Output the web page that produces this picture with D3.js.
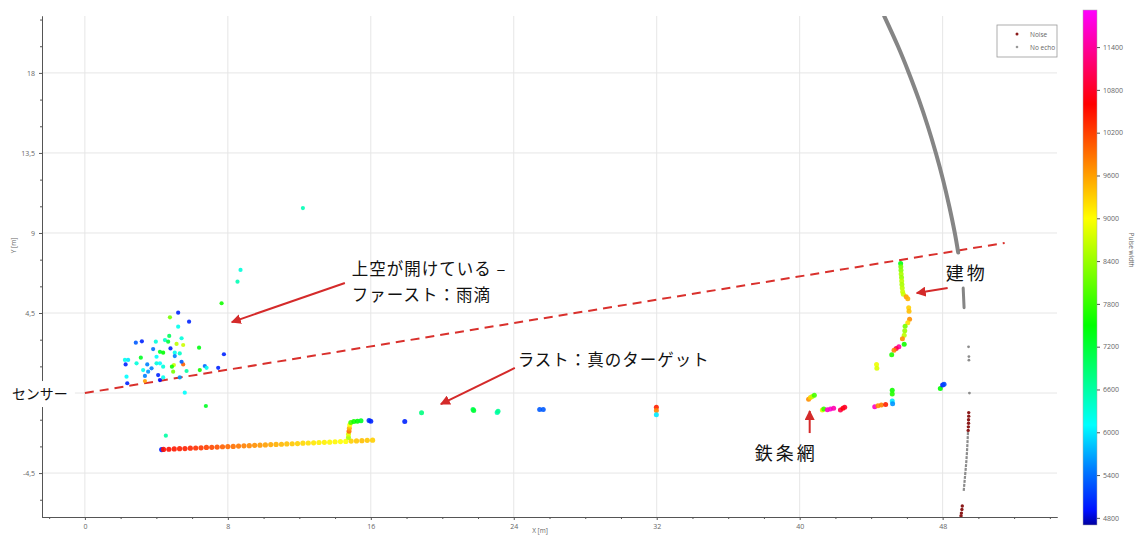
<!DOCTYPE html>
<html>
<head>
<meta charset="utf-8">
<script src="https://d3js.org/d3.v7.min.js"></script>
<style>
body {margin:0; background:#fff;}
text {font-family:'Open Sans', sans-serif;}
.jp {font-family:'Noto Sans CJK JP', sans-serif; fill:#111;}
</style>
</head>
<body>
<svg id="chart" width="1139" height="536"></svg>
<script>
// ticks
var xTicks = [0, 8, 16, 24, 32, 40, 48]
var xMinor = [-2, 2, 4, 6, 10, 12, 14, 18, 20, 22, 26, 28, 30, 34, 36, 38, 42, 44, 46, 50, 52, 54]
var yTicks = [-4.5, 0, 4.5, 9, 13.5, 18]
var yMinor = [-6, -3, -1.5, 1.5, 3, 6, 7.5, 10.5, 12, 15, 16.5, 19.5, 21]
var cbTicks = [4800, 5400, 6000, 6600, 7200, 7800, 8400, 9000, 9600, 10200, 10800, 11400]

// colour map of the pulse width
var pwStops = [4700, 4900, 5500, 6100, 7500, 9000, 10600, 11920]
var pwColors = ['#0000a0', '#0010ff', '#0080ff', '#00ffff', '#00ff00', '#ffff00', '#ff0000', '#ff00ff']

// first echoes (rain drops)
var rainX = [7.65,5.22,4.76,5.83,5.22,4.72,5.41,2.85,3.19,3.97,4.48,4.66,5.13,5.5,3.82,4.79,6.39,4.2,4.38,5.03,5.31,4.01,5.03,7.78,2.24,2.42,3.13,2.89,2.28,3.49,4.01,4.2,4.98,4.87,5.5,5.41,3.73,3.26,4.38,4.94,5.69,6.43,6.71,6.81,7.46,3.54,2.33,3.36,4.1,4.38,5.31,2.37,3.36,4.2,5.59,6.77,8.71,8.54,4.53,12.2]
var rainY = [5.05,4.52,4.26,4.01,3.73,3.21,3.08,2.83,2.91,2.89,2.98,2.89,2.76,2.7,2.47,2.51,2.55,2.32,2.27,2.27,2.23,2.04,2.08,2.18,1.86,1.86,1.99,1.67,1.61,1.61,1.67,1.67,1.57,1.48,1.61,1.76,1.39,1.29,1.48,1.2,1.24,1.29,1.52,1.42,1.42,1.2,0.92,0.96,1.01,0.88,0.88,0.55,0.67,0.73,0.02,-0.73,6.92,6.26,-2.4,10.4]
var rainPW = [7600,5000,8200,5000,6200,7000,6300,5300,5000,6300,6400,7200,8600,8700,5400,5000,7400,7300,7500,6200,6400,6100,5500,5000,6200,6000,7300,6300,5000,5500,6300,6100,8700,7600,10000,5300,5500,6200,6300,8200,6600,7600,5400,6200,5000,5600,6100,5500,5000,6200,5600,5000,9600,4900,6100,7300,6300,6500,6600,6500]

// last echoes on the ground
var groundX = [4.3,4.4,4.7,5.0,5.3,5.6,5.9,6.2,6.5,6.8,7.1,7.4,7.7,8.0,8.3,8.6,8.9,9.2,9.5,9.8,10.1,10.4,10.7,11.0,11.3,11.6,11.9,12.2,12.5,12.8,13.1,13.4,13.7,14.0,14.3,14.6,14.9,15.2,15.5,15.8,16.1]
var groundY = [-3.18,-3.17,-3.16,-3.14,-3.13,-3.12,-3.10,-3.09,-3.08,-3.06,-3.05,-3.04,-3.02,-3.01,-3.00,-2.98,-2.97,-2.96,-2.94,-2.93,-2.92,-2.90,-2.89,-2.88,-2.86,-2.85,-2.84,-2.82,-2.81,-2.80,-2.78,-2.77,-2.76,-2.74,-2.73,-2.72,-2.70,-2.69,-2.68,-2.66,-2.65]
var groundPW = [5000,10500,10500,10450,10400,10400,10350,10300,10250,10200,10150,10100,10000,9950,9900,9850,9800,9750,9700,9650,9600,9550,9500,9450,9400,9350,9300,9250,9200,9150,9100,9100,9050,9050,9000,9000,9300,9350,9400,9350,9300]

// other targets: kerb, posts, fence, building
var objX = [14.75,14.75,14.78,14.8,14.82,14.88,15.05,15.25,15.45,15.9,16.0,
  17.9,18.84,21.72,21.76,23.07,23.12,25.45,25.65,31.98,31.98,31.98,
  40.5,40.6,40.7,40.82,41.27,41.35,41.55,41.72,41.9,42.28,42.42,42.52,
  44.2,44.38,44.57,44.81,45.18,45.18,45.18,45.2,44.3,44.32,47.87,48.0,48.08,
  45.65,45.66,45.67,45.68,45.7,45.71,45.72,45.74,45.76,45.8,45.96,46.05,46.1,46.12,46.15,46.05,45.9,45.88,45.85,45.75,45.85,45.55,45.4,45.28,45.15]
var objY = [-2.5,-2.32,-2.15,-1.98,-1.8,-1.65,-1.6,-1.58,-1.56,-1.55,-1.58,
  -1.6,-1.11,-0.92,-0.98,-1.09,-1.03,-0.92,-0.92,-0.8,-0.98,-1.22,
  -0.35,-0.25,-0.2,-0.12,-0.96,-0.9,-0.94,-0.9,-0.85,-0.96,-0.86,-0.8,
  -0.77,-0.71,-0.67,-0.64,0.15,-0.05,-0.45,-0.6,1.6,1.4,0.26,0.45,0.5,
  7.29,7.1,6.9,6.7,6.5,6.3,6.1,5.9,5.7,5.55,5.42,5.3,4.8,4.6,4.15,3.95,3.75,3.5,3.25,3.05,2.75,2.6,2.5,2.4,2.15]
var objPW = [8500,8800,9900,9500,9000,7900,7600,7500,7300,5100,5000,
  5000,6800,7000,7200,6500,6700,5300,5300,10400,9800,6000,
  9700,9300,8600,7900,8800,7800,11600,11700,11500,11000,10600,10800,
  11600,9700,9800,10400,7600,7700,6000,5600,8900,8800,7500,5000,5200,
  7400,8200,8300,8500,8400,8600,8500,8600,8700,8700,9600,9500,9300,9400,9700,9200,8200,8400,8600,9700,7600,11400,11000,9800,7700]

// no echo at maximum range
var arcX = [44.73,45.5,46.11,46.67,47.17,47.62,48.02,48.37,48.68,48.87]
var arcY = [21.2,19.5,18.0,16.5,15.0,13.5,12.0,10.5,9.0,7.9]
var segX = [49.15,49.2]
var segY = [5.9,4.8]
var lowX = [49.42,49.38,49.33,49.26,49.18]
var lowY = [-2.2,-3.0,-3.8,-4.6,-5.5]
var dotX = [49.45,49.47,49.47,49.5]
var dotY = [2.6,2.05,1.85,0.0]
// noise
var noiseX = [49.46,49.46,49.45,49.45,49.44,49.43,49.1,49.08,49.05,49.03]
var noiseY = [-1.1,-1.3,-1.5,-1.7,-1.9,-2.1,-6.35,-6.55,-6.75,-6.9]

// annotations
var beamEnd = [51.47, 8.44]
var annoText = ['上空が開けている –', 'ファースト：雨滴', 'ラスト：真のターゲット', '建物', '鉄条網']
var annoX = [14.94, 14.94, 24.22, 48.17, 37.48]
var annoY = [6.65, 5.2, 1.52, 6.36, -3.77]
var arrowFromX = [14.55, 24.06, 40.56, 48.28]
var arrowFromY = [6.19, 1.41, -2.25, 5.91]
var arrowToX = [8.22, 19.92, 40.56, 46.55]
var arrowToY = [3.99, -0.62, -1.01, 5.62]

var svg = d3.select('#chart')
var x = d3.scaleLinear().domain([-2.4, 54.4]).range([42, 1057])
var y = d3.scaleLinear().domain([-6.97, 21.2]).range([517, 16])
var color = d3.scaleLinear().domain(pwStops).range(pwColors).clamp(true)
var comma = function(d) {return d === 0 ? '' : String(d).replace('.', ',')}

svg.append('defs').append('clipPath').attr('id', 'plot')
  .append('rect').attr('x', 42).attr('y', 16).attr('width', 1015).attr('height', 501)

// grid
svg.append('g').selectAll('line').data(xTicks).enter().append('line')
  .attr('x1', d => x(d)).attr('x2', d => x(d)).attr('y1', 16).attr('y2', 517)
  .attr('stroke', '#e6e6e6')
svg.append('g').selectAll('line').data(yTicks).enter().append('line')
  .attr('x1', 42).attr('x2', 1057).attr('y1', d => y(d)).attr('y2', d => y(d))
  .attr('stroke', '#e6e6e6')

// axes
function styleAxis(g) {
  g.select('.domain').attr('stroke', '#555')
  g.selectAll('.tick line').attr('stroke', '#555')
  g.selectAll('.tick text').attr('fill', '#666').attr('font-size', 7)
}
svg.append('g').attr('transform', 'translate(0,517)')
  .call(d3.axisBottom(x).tickValues(xTicks).tickSize(3).tickSizeOuter(0).tickPadding(4))
  .call(styleAxis)
svg.append('g').attr('transform', 'translate(0,517)')
  .call(d3.axisBottom(x).tickValues(xMinor).tickSize(2).tickSizeOuter(0).tickFormat(''))
  .call(styleAxis)
svg.append('g').attr('transform', 'translate(42,0)')
  .call(d3.axisLeft(y).tickValues(yTicks).tickSize(3).tickSizeOuter(0).tickPadding(4).tickFormat(comma))
  .call(styleAxis)
svg.append('g').attr('transform', 'translate(42,0)')
  .call(d3.axisLeft(y).tickValues(yMinor).tickSize(2).tickSizeOuter(0).tickFormat(''))
  .call(styleAxis)

svg.append('text').attr('x', 540).attr('y', 533).attr('text-anchor', 'middle')
  .attr('font-size', 6.5).attr('fill', '#666').text('X [m]')
svg.append('text').attr('transform', 'translate(16,' + y(8.3) + ') rotate(-90)')
  .attr('text-anchor', 'middle').attr('font-size', 6.5).attr('fill', '#666').text('Y [m]')

var plot = svg.append('g').attr('clip-path', 'url(#plot)')

// sensor beam
plot.append('line')
  .attr('x1', x(0)).attr('y1', y(0)).attr('x2', x(beamEnd[0])).attr('y2', y(beamEnd[1]))
  .attr('stroke', '#d9302c').attr('stroke-width', 2).attr('stroke-dasharray', '9,6')

// no echo arc
var line = d3.line().x(d => x(d[0])).y(d => y(d[1])).curve(d3.curveNatural)
plot.append('path').attr('d', line(d3.zip(arcX, arcY)))
  .attr('fill', 'none').attr('stroke', '#858585').attr('stroke-width', 4).attr('stroke-linecap', 'round')
plot.append('path').attr('d', line(d3.zip(segX, segY)))
  .attr('fill', 'none').attr('stroke', '#858585').attr('stroke-width', 3).attr('stroke-linecap', 'round')
plot.append('path').attr('d', line(d3.zip(lowX, lowY)))
  .attr('fill', 'none').attr('stroke', '#8c8c8c').attr('stroke-width', 2.2).attr('stroke-dasharray', '3,1')
plot.append('g').selectAll('circle').data(d3.zip(dotX, dotY)).enter().append('circle')
  .attr('cx', d => x(d[0])).attr('cy', d => y(d[1])).attr('r', 1.4).attr('fill', '#8c8c8c')
plot.append('g').selectAll('circle').data(d3.zip(noiseX, noiseY)).enter().append('circle')
  .attr('cx', d => x(d[0])).attr('cy', d => y(d[1])).attr('r', 1.7).attr('fill', '#8b1a1a')

// echoes
function drawPoints(xs, ys, pws, r) {
  plot.append('g').selectAll('circle').data(d3.zip(xs, ys, pws)).enter().append('circle')
    .attr('cx', d => x(d[0])).attr('cy', d => y(d[1])).attr('r', r)
    .attr('fill', d => color(d[2])).attr('opacity', 0.9)
}
drawPoints(groundX, groundY, groundPW, 2.6)
drawPoints(objX, objY, objPW, 2.5)
drawPoints(rainX, rainY, rainPW, 2.1)

// legend
var lg = svg.append('g')
lg.append('rect').attr('x', 997).attr('y', 25).attr('width', 60).attr('height', 32)
  .attr('fill', '#fff').attr('stroke', '#999').attr('stroke-width', 0.8)
lg.append('circle').attr('cx', 1017).attr('cy', 34).attr('r', 1.5).attr('fill', '#8b1a1a')
lg.append('circle').attr('cx', 1017).attr('cy', 47).attr('r', 1.3).attr('fill', '#999')
lg.append('text').attr('x', 1030).attr('y', 36.5).attr('font-size', 6.5).attr('fill', '#666').text('Noise')
lg.append('text').attr('x', 1030).attr('y', 49.5).attr('font-size', 6.5).attr('fill', '#666').text('No echo')

// colour bar
var cb = d3.scaleLinear().domain([4700, 11920]).range([525, 10])
var grad = svg.select('defs').append('linearGradient').attr('id', 'pw')
  .attr('x1', 0).attr('y1', 1).attr('x2', 0).attr('y2', 0)
grad.selectAll('stop').data(pwStops).enter().append('stop')
  .attr('offset', d => (d - 4700) / (11920 - 4700))
  .attr('stop-color', (d, i) => pwColors[i])
svg.append('rect').attr('x', 1083).attr('y', 10).attr('width', 14).attr('height', 515)
  .attr('fill', 'url(#pw)').attr('stroke', '#aaa').attr('stroke-width', 0.5)
svg.append('g').attr('transform', 'translate(1097,0)')
  .call(d3.axisRight(cb).tickValues(cbTicks).tickSize(3).tickSizeOuter(0).tickPadding(3).tickFormat(d3.format('d')))
  .call(styleAxis)
  .call(g => g.select('.domain').remove())
svg.append('text').attr('transform', 'translate(1129,250) rotate(90)')
  .attr('text-anchor', 'middle').attr('font-size', 6.5).attr('fill', '#666').text('Pulse width')

// annotations
var defs = svg.select('defs')
defs.append('marker').attr('id', 'head').attr('viewBox', '0 0 10 10')
  .attr('refX', 9).attr('refY', 5).attr('markerWidth', 5).attr('markerHeight', 5)
  .attr('orient', 'auto').attr('markerUnits', 'strokeWidth')
  .append('path').attr('d', 'M0,0 L10,5 L0,10 Z').attr('fill', '#d42a2a')
svg.append('g').selectAll('line').data(arrowFromX).enter().append('line')
  .attr('x1', (d, i) => x(d)).attr('y1', (d, i) => y(arrowFromY[i]))
  .attr('x2', (d, i) => x(arrowToX[i])).attr('y2', (d, i) => y(arrowToY[i]))
  .attr('stroke', '#d42a2a').attr('stroke-width', 2).attr('marker-end', 'url(#head)')
// short labels are set a bit larger and wider in the original
svg.append('g').selectAll('text').data(annoText).enter().append('text')
  .attr('class', 'jp').attr('x', (d, i) => x(annoX[i])).attr('y', (d, i) => y(annoY[i]))
  .attr('font-size', d => d.length <= 3 ? 18 : 16.5)
  .attr('letter-spacing', d => d.length <= 3 ? 3 : 1)
  .text(d => d)

// sensor label
svg.append('rect').attr('x', 0).attr('y', y(0) - 12).attr('width', x(0) - 10).attr('height', 26).attr('fill', '#fff')
svg.append('text').attr('class', 'jp').attr('x', x(0) - 73).attr('y', y(0) + 6)
  .attr('font-size', 14).text('センサー')
</script>
</body>
</html>
